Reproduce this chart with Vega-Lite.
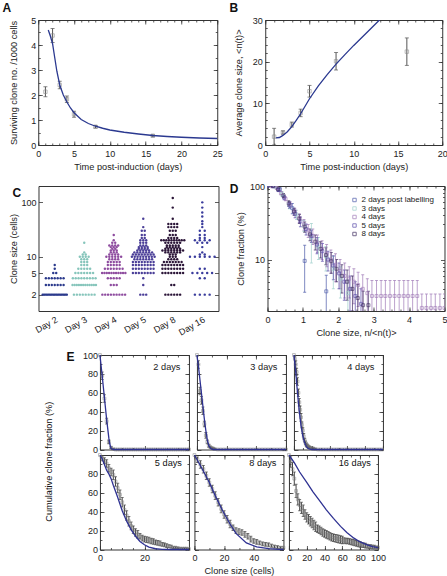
{
"$schema":"https://vega.github.io/schema/vega-lite/v6.json",
"padding":{"left":2,"top":1,"right":0,"bottom":1},
"config":{
 "font":"Liberation Sans",
 "view":{"stroke":"#333","strokeWidth":1},
 "axis":{"domain":false,"ticks":false,"gridColor":"#333","gridWidth":0.8,"gridOpacity":1,"labelPadding":3,"labelFontSize":9,"labelColor":"#222","titleFontSize":9.2,"titleFontWeight":"normal","titleColor":"#222","titlePadding":4,"labelFlush":false,"labelOverlap":false,"labelBound":false},
 "title":{"fontSize":12,"fontWeight":"bold","anchor":"start","frame":"bounds","color":"#111"},
 "legend":{"labelFont":"Liberation Sans"}
},
"datasets":{
 "a":[{"t":1,"v":2.13,"e":0.2},{"t":2,"v":4.38,"e":0.28},{"t":3,"v":2.4,"e":0.15},{"t":4,"v":1.83,"e":0.13},{"t":5,"v":1.23,"e":0.12},{"t":8,"v":0.73,"e":0.05},{"t":16,"v":0.37,"e":0.04}],
 "af":[{"t":1.4,"v":4.6},{"t":1.7,"v":4.35},{"t":2,"v":4.05},{"t":2.3,"v":3.5},{"t":2.6,"v":2.95},{"t":3,"v":2.4},{"t":3.5,"v":2.0},{"t":4,"v":1.72},{"t":4.5,"v":1.48},{"t":5,"v":1.29},{"t":6,"v":1.02},{"t":7,"v":0.86},{"t":8,"v":0.75},{"t":9,"v":0.67},{"t":10,"v":0.6},{"t":12,"v":0.51},{"t":14,"v":0.44},{"t":16,"v":0.38},{"t":18,"v":0.34},{"t":20,"v":0.31},{"t":22.5,"v":0.28},{"t":25,"v":0.26}],
 "b":[{"t":1,"v":2,"e":2},{"t":2,"v":3,"e":0.4},{"t":3,"v":4.9,"e":0.6},{"t":4,"v":7.7,"e":0.9},{"t":5,"v":12.9,"e":1.4},{"t":8,"v":20.1,"e":2.1},{"t":16,"v":22.4,"e":3.3}],
 "bf":[{"t":1.2,"v":1.7},{"t":1.6,"v":1.8},{"t":2,"v":2.3},{"t":2.5,"v":3.2},{"t":3,"v":4.4},{"t":3.5,"v":5.9},{"t":4,"v":7.5},{"t":4.5,"v":9.3},{"t":5,"v":11.1},{"t":6,"v":14.2},{"t":7,"v":16.9},{"t":8,"v":19.4},{"t":9,"v":21.7},{"t":10,"v":23.9},{"t":11,"v":26.0},{"t":12,"v":28.1},{"t":13,"v":30.2}],
 "c":[
{"d":2,"s":2},{"d":2,"s":2},{"d":2,"s":2},{"d":2,"s":2},{"d":2,"s":2},{"d":2,"s":2},{"d":2,"s":2},{"d":2,"s":2},{"d":2,"s":2},{"d":2,"s":2},{"d":2,"s":2},{"d":2,"s":2},{"d":2,"s":2},{"d":2,"s":2},{"d":2,"s":2},{"d":2,"s":2},{"d":2,"s":2},{"d":2,"s":2},
{"d":2,"s":3},{"d":2,"s":3},{"d":2,"s":3},{"d":2,"s":3},{"d":2,"s":3},{"d":2,"s":3},{"d":2,"s":3},
{"d":2,"s":4},{"d":2,"s":4},{"d":2,"s":4},{"d":2,"s":4},{"d":2,"s":4},{"d":2,"s":4},{"d":2,"s":4},
{"d":2,"s":5},{"d":2,"s":5},{"d":2,"s":6},{"d":2,"s":7},
{"d":3,"s":2},{"d":3,"s":2},{"d":3,"s":2},{"d":3,"s":2},{"d":3,"s":2},{"d":3,"s":2},{"d":3,"s":2},{"d":3,"s":2},
{"d":3,"s":3},{"d":3,"s":3},{"d":3,"s":3},{"d":3,"s":3},{"d":3,"s":3},{"d":3,"s":3},{"d":3,"s":3},{"d":3,"s":3},{"d":3,"s":3},{"d":3,"s":3},{"d":3,"s":3},{"d":3,"s":3},
{"d":3,"s":4},{"d":3,"s":4},{"d":3,"s":4},{"d":3,"s":4},{"d":3,"s":4},{"d":3,"s":4},{"d":3,"s":4},{"d":3,"s":4},{"d":3,"s":4},
{"d":3,"s":5},{"d":3,"s":5},{"d":3,"s":5},{"d":3,"s":5},{"d":3,"s":5},{"d":3,"s":5},{"d":3,"s":5},
{"d":3,"s":6},{"d":3,"s":6},{"d":3,"s":6},{"d":3,"s":6},{"d":3,"s":6},
{"d":3,"s":7},{"d":3,"s":7},{"d":3,"s":7},{"d":3,"s":8},{"d":3,"s":8},{"d":3,"s":8},{"d":3,"s":9},{"d":3,"s":9},{"d":3,"s":9},
{"d":3,"s":10},{"d":3,"s":10},{"d":3,"s":10},{"d":3,"s":10},{"d":3,"s":11},{"d":3,"s":11},{"d":3,"s":12},{"d":3,"s":18},
{"d":4,"s":2},{"d":4,"s":2},{"d":4,"s":2},{"d":4,"s":2},{"d":4,"s":2},{"d":4,"s":2},{"d":4,"s":2},{"d":4,"s":2},{"d":4,"s":2},
{"d":4,"s":3},{"d":4,"s":3},{"d":4,"s":3},{"d":4,"s":4},{"d":4,"s":4},{"d":4,"s":4},{"d":4,"s":4},{"d":4,"s":4},
{"d":4,"s":5},{"d":4,"s":5},{"d":4,"s":5},{"d":4,"s":5},{"d":4,"s":5},{"d":4,"s":5},{"d":4,"s":5},{"d":4,"s":5},{"d":4,"s":5},{"d":4,"s":5},{"d":4,"s":5},
{"d":4,"s":6},{"d":4,"s":6},{"d":4,"s":6},{"d":4,"s":6},{"d":4,"s":6},{"d":4,"s":6},{"d":4,"s":6},
{"d":4,"s":7},{"d":4,"s":7},{"d":4,"s":7},{"d":4,"s":7},{"d":4,"s":7},{"d":4,"s":8},{"d":4,"s":8},{"d":4,"s":8},{"d":4,"s":8},{"d":4,"s":8},
{"d":4,"s":9},{"d":4,"s":9},{"d":4,"s":9},{"d":4,"s":9},{"d":4,"s":10},{"d":4,"s":10},{"d":4,"s":10},{"d":4,"s":10},{"d":4,"s":10},{"d":4,"s":10},
{"d":4,"s":11},{"d":4,"s":11},{"d":4,"s":11},{"d":4,"s":11},{"d":4,"s":12},{"d":4,"s":12},{"d":4,"s":12},{"d":4,"s":13},{"d":4,"s":13},{"d":4,"s":13},
{"d":4,"s":14},{"d":4,"s":14},{"d":4,"s":15},{"d":4,"s":15},{"d":4,"s":15},{"d":4,"s":16},{"d":4,"s":16},{"d":4,"s":16},{"d":4,"s":16},
{"d":4,"s":18},{"d":4,"s":18},{"d":4,"s":20},{"d":4,"s":25},
{"d":5,"s":2},{"d":5,"s":2},{"d":5,"s":2},{"d":5,"s":3},{"d":5,"s":4},
{"d":5,"s":5},{"d":5,"s":5},{"d":5,"s":5},{"d":5,"s":5},{"d":5,"s":5},{"d":5,"s":5},{"d":5,"s":5},{"d":5,"s":5},
{"d":5,"s":6},{"d":5,"s":6},{"d":5,"s":6},{"d":5,"s":6},{"d":5,"s":6},{"d":5,"s":6},{"d":5,"s":6},{"d":5,"s":6},
{"d":5,"s":7},{"d":5,"s":7},{"d":5,"s":7},{"d":5,"s":7},{"d":5,"s":7},{"d":5,"s":7},{"d":5,"s":7},{"d":5,"s":7},
{"d":5,"s":8},{"d":5,"s":8},{"d":5,"s":8},{"d":5,"s":8},{"d":5,"s":8},{"d":5,"s":8},{"d":5,"s":8},{"d":5,"s":8},
{"d":5,"s":9},{"d":5,"s":9},{"d":5,"s":9},{"d":5,"s":9},{"d":5,"s":9},{"d":5,"s":9},{"d":5,"s":9},
{"d":5,"s":10},{"d":5,"s":10},{"d":5,"s":10},{"d":5,"s":10},{"d":5,"s":10},{"d":5,"s":10},{"d":5,"s":10},{"d":5,"s":10},{"d":5,"s":10},
{"d":5,"s":11},{"d":5,"s":11},{"d":5,"s":11},{"d":5,"s":11},{"d":5,"s":11},{"d":5,"s":11},{"d":5,"s":11},{"d":5,"s":11},
{"d":5,"s":12},{"d":5,"s":12},{"d":5,"s":12},{"d":5,"s":12},{"d":5,"s":12},{"d":5,"s":12},{"d":5,"s":12},
{"d":5,"s":13},{"d":5,"s":13},{"d":5,"s":13},{"d":5,"s":13},{"d":5,"s":13},{"d":5,"s":14},{"d":5,"s":14},{"d":5,"s":14},{"d":5,"s":14},
{"d":5,"s":15},{"d":5,"s":15},{"d":5,"s":15},{"d":5,"s":15},{"d":5,"s":16},{"d":5,"s":16},{"d":5,"s":16},
{"d":5,"s":18},{"d":5,"s":18},{"d":5,"s":18},{"d":5,"s":20},{"d":5,"s":20},{"d":5,"s":20},{"d":5,"s":22},{"d":5,"s":22},
{"d":5,"s":25},{"d":5,"s":25},{"d":5,"s":30},{"d":5,"s":30},{"d":5,"s":35},{"d":5,"s":50},
{"d":8,"s":2},{"d":8,"s":2},{"d":8,"s":2},{"d":8,"s":2},{"d":8,"s":2},{"d":8,"s":2},{"d":8,"s":3},{"d":8,"s":3},
{"d":8,"s":5},{"d":8,"s":5},{"d":8,"s":5},{"d":8,"s":5},{"d":8,"s":5},{"d":8,"s":5},{"d":8,"s":5},{"d":8,"s":5},
{"d":8,"s":6},{"d":8,"s":6},{"d":8,"s":6},{"d":8,"s":6},{"d":8,"s":6},{"d":8,"s":6},{"d":8,"s":6},{"d":8,"s":6},
{"d":8,"s":7},{"d":8,"s":7},{"d":8,"s":7},{"d":8,"s":7},{"d":8,"s":7},{"d":8,"s":7},{"d":8,"s":7},{"d":8,"s":7},
{"d":8,"s":8},{"d":8,"s":8},{"d":8,"s":8},{"d":8,"s":8},{"d":8,"s":8},{"d":8,"s":8},{"d":8,"s":8},
{"d":8,"s":9},{"d":8,"s":9},{"d":8,"s":9},{"d":8,"s":9},{"d":8,"s":10},{"d":8,"s":10},{"d":8,"s":10},{"d":8,"s":11},{"d":8,"s":11},{"d":8,"s":11},
{"d":8,"s":12},{"d":8,"s":12},{"d":8,"s":12},{"d":8,"s":12},{"d":8,"s":12},{"d":8,"s":12},
{"d":8,"s":13},{"d":8,"s":13},{"d":8,"s":13},{"d":8,"s":13},{"d":8,"s":13},{"d":8,"s":13},{"d":8,"s":13},{"d":8,"s":13},
{"d":8,"s":14},{"d":8,"s":14},{"d":8,"s":14},{"d":8,"s":14},{"d":8,"s":14},{"d":8,"s":14},
{"d":8,"s":15},{"d":8,"s":15},{"d":8,"s":15},{"d":8,"s":15},{"d":8,"s":15},{"d":8,"s":16},{"d":8,"s":16},{"d":8,"s":16},{"d":8,"s":16},{"d":8,"s":16},
{"d":8,"s":18},{"d":8,"s":18},{"d":8,"s":18},{"d":8,"s":18},{"d":8,"s":18},{"d":8,"s":18},
{"d":8,"s":20},{"d":8,"s":20},{"d":8,"s":20},{"d":8,"s":20},{"d":8,"s":20},{"d":8,"s":20},{"d":8,"s":20},{"d":8,"s":20},{"d":8,"s":20},{"d":8,"s":20},
{"d":8,"s":22},{"d":8,"s":22},{"d":8,"s":22},{"d":8,"s":22},{"d":8,"s":25},{"d":8,"s":25},{"d":8,"s":25},{"d":8,"s":30},{"d":8,"s":30},{"d":8,"s":30},
{"d":8,"s":35},{"d":8,"s":35},{"d":8,"s":35},{"d":8,"s":35},{"d":8,"s":40},{"d":8,"s":40},{"d":8,"s":40},{"d":8,"s":40},{"d":8,"s":50},{"d":8,"s":80},{"d":8,"s":120},
{"d":16,"s":2},{"d":16,"s":2},{"d":16,"s":2},{"d":16,"s":2},{"d":16,"s":4},{"d":16,"s":4},
{"d":16,"s":5},{"d":16,"s":5},{"d":16,"s":5},{"d":16,"s":5},{"d":16,"s":5},{"d":16,"s":6},{"d":16,"s":6},
{"d":16,"s":10},{"d":16,"s":10},{"d":16,"s":10},{"d":16,"s":10},{"d":16,"s":10},{"d":16,"s":10},{"d":16,"s":11},{"d":16,"s":11},{"d":16,"s":12},{"d":16,"s":15},
{"d":16,"s":18},{"d":16,"s":18},{"d":16,"s":18},{"d":16,"s":20},{"d":16,"s":20},{"d":16,"s":20},{"d":16,"s":20},{"d":16,"s":22},{"d":16,"s":22},
{"d":16,"s":25},{"d":16,"s":25},{"d":16,"s":30},{"d":16,"s":30},{"d":16,"s":35},{"d":16,"s":40},{"d":16,"s":45},{"d":16,"s":55},{"d":16,"s":65},{"d":16,"s":80},{"d":16,"s":100}
 ],
 "dd":[
{"s":"2 days post labelling","x":0,"y":100,"e":1},{"s":"2 days post labelling","x":0.35,"y":90,"e":5},{"s":"2 days post labelling","x":0.7,"y":50,"e":8},{"s":"2 days post labelling","x":1.05,"y":9.6,"e":6},{"s":"2 days post labelling","x":1.66,"y":3.7,"e":2.4},
{"s":"3 days","x":0,"y":100,"e":1},{"s":"3 days","x":0.21,"y":98,"e":3},{"s":"3 days","x":0.41,"y":78,"e":6},{"s":"3 days","x":0.62,"y":55,"e":6},{"s":"3 days","x":0.82,"y":41,"e":6},{"s":"3 days","x":1.03,"y":29,"e":5},{"s":"3 days","x":1.24,"y":20,"e":11},{"s":"3 days","x":1.44,"y":15,"e":5},{"s":"3 days","x":1.65,"y":11,"e":4},{"s":"3 days","x":1.86,"y":7.5,"e":3.5},{"s":"3 days","x":2.06,"y":5.5,"e":2.5},{"s":"3 days","x":2.27,"y":3.5,"e":1.8},
{"s":"4 days","x":0,"y":100,"e":1},{"s":"4 days","x":0.13,"y":99,"e":2},{"s":"4 days","x":0.26,"y":94,"e":3},{"s":"4 days","x":0.38,"y":80,"e":4},{"s":"4 days","x":0.51,"y":67,"e":4},{"s":"4 days","x":0.64,"y":56,"e":5},{"s":"4 days","x":0.77,"y":45,"e":5},{"s":"4 days","x":0.9,"y":37,"e":5},{"s":"4 days","x":1.03,"y":30,"e":5},{"s":"4 days","x":1.15,"y":25,"e":5},{"s":"4 days","x":1.28,"y":21,"e":5},{"s":"4 days","x":1.41,"y":17,"e":4.5},{"s":"4 days","x":1.54,"y":14,"e":4},{"s":"4 days","x":1.67,"y":12,"e":4},{"s":"4 days","x":1.79,"y":10,"e":3.5},{"s":"4 days","x":1.92,"y":8.5,"e":3.5},{"s":"4 days","x":2.05,"y":7,"e":3},{"s":"4 days","x":2.18,"y":6,"e":3},{"s":"4 days","x":2.31,"y":5.5,"e":2.5},{"s":"4 days","x":2.44,"y":5,"e":2.5},{"s":"4 days","x":2.56,"y":4.5,"e":2.2},{"s":"4 days","x":2.69,"y":4,"e":2.2},{"s":"4 days","x":2.82,"y":3.5,"e":2},{"s":"4 days","x":2.95,"y":3.2,"e":2},{"s":"4 days","x":3.08,"y":3.2,"e":2},{"s":"4 days","x":3.21,"y":3.2,"e":2},{"s":"4 days","x":3.33,"y":3.2,"e":2},{"s":"4 days","x":3.46,"y":3.2,"e":2},{"s":"4 days","x":3.59,"y":3.2,"e":2},{"s":"4 days","x":3.72,"y":3.2,"e":2},{"s":"4 days","x":3.85,"y":3.2,"e":2},{"s":"4 days","x":3.97,"y":3.2,"e":2},{"s":"4 days","x":4.1,"y":3.2,"e":2},{"s":"4 days","x":4.23,"y":3.2,"e":2},{"s":"4 days","x":4.36,"y":2.2,"e":1.2},{"s":"4 days","x":4.49,"y":2.2,"e":1.2},{"s":"4 days","x":4.62,"y":2.2,"e":1.2},{"s":"4 days","x":4.74,"y":2.2,"e":1.2},{"s":"4 days","x":4.87,"y":2.2,"e":1.2},{"s":"4 days","x":5,"y":2.2,"e":1.2},
{"s":"5 days","x":0,"y":100,"e":1},{"s":"5 days","x":0.16,"y":99,"e":2},{"s":"5 days","x":0.31,"y":88,"e":4},{"s":"5 days","x":0.47,"y":70,"e":5},{"s":"5 days","x":0.62,"y":55,"e":5},{"s":"5 days","x":0.78,"y":42,"e":5},{"s":"5 days","x":0.93,"y":33,"e":5},{"s":"5 days","x":1.09,"y":26,"e":4.5},{"s":"5 days","x":1.24,"y":21,"e":4},{"s":"5 days","x":1.4,"y":16,"e":4},{"s":"5 days","x":1.55,"y":13,"e":3.5},{"s":"5 days","x":1.71,"y":10,"e":3},{"s":"5 days","x":1.86,"y":8.3,"e":3},{"s":"5 days","x":2.02,"y":6.5,"e":2.5},{"s":"5 days","x":2.17,"y":5,"e":2.2},{"s":"5 days","x":2.33,"y":4,"e":2},{"s":"5 days","x":2.48,"y":3.2,"e":1.8},{"s":"5 days","x":2.64,"y":2.5,"e":1.5},
{"s":"8 days","x":0,"y":100,"e":1},{"s":"8 days","x":0.15,"y":100,"e":2},{"s":"8 days","x":0.3,"y":90,"e":4},{"s":"8 days","x":0.45,"y":74,"e":5},{"s":"8 days","x":0.6,"y":58,"e":5},{"s":"8 days","x":0.75,"y":45,"e":5},{"s":"8 days","x":0.9,"y":36,"e":5},{"s":"8 days","x":1.05,"y":28,"e":4.5},{"s":"8 days","x":1.2,"y":22,"e":4},{"s":"8 days","x":1.35,"y":17.5,"e":4},{"s":"8 days","x":1.5,"y":14,"e":3.5},{"s":"8 days","x":1.65,"y":11.5,"e":3},{"s":"8 days","x":1.8,"y":9.5,"e":3},{"s":"8 days","x":1.95,"y":7.5,"e":2.5},{"s":"8 days","x":2.1,"y":6,"e":2.5},{"s":"8 days","x":2.25,"y":5,"e":2.2},{"s":"8 days","x":2.4,"y":4,"e":2},{"s":"8 days","x":2.55,"y":3,"e":1.6},{"s":"8 days","x":2.7,"y":2.4,"e":1.3},{"s":"8 days","x":2.85,"y":2.4,"e":1.3}
 ],
 "ed":[
{"p":"2","x":0,"y":100,"e":1},{"p":"2","x":1,"y":78,"e":4},{"p":"2","x":2,"y":54,"e":4},{"p":"2","x":3,"y":30,"e":3},{"p":"2","x":4,"y":8,"e":2},{"p":"2","x":5,"y":2,"e":1},{"p":"2","x":6,"y":0.5,"e":0.5},
{"p":"2","x":7,"y":0,"e":0.3},{"p":"2","x":8,"y":0,"e":0.3},{"p":"2","x":9,"y":0,"e":0.3},{"p":"2","x":10,"y":0,"e":0.3},{"p":"2","x":11,"y":0,"e":0.3},{"p":"2","x":12,"y":0,"e":0.3},{"p":"2","x":13,"y":0,"e":0.3},{"p":"2","x":14,"y":0,"e":0.3},{"p":"2","x":15,"y":0,"e":0.3},{"p":"2","x":16,"y":0,"e":0.3},{"p":"2","x":17,"y":0,"e":0.3},{"p":"2","x":18,"y":0,"e":0.3},{"p":"2","x":19,"y":0,"e":0.3},{"p":"2","x":20,"y":0,"e":0.3},{"p":"2","x":21,"y":0,"e":0.3},{"p":"2","x":22,"y":0,"e":0.3},{"p":"2","x":23,"y":0,"e":0.3},{"p":"2","x":24,"y":0,"e":0.3},{"p":"2","x":25,"y":0,"e":0.3},{"p":"2","x":26,"y":0,"e":0.3},{"p":"2","x":27,"y":0,"e":0.3},{"p":"2","x":28,"y":0,"e":0.3},{"p":"2","x":29,"y":0,"e":0.3},{"p":"2","x":30,"y":0,"e":0.3},{"p":"2","x":31,"y":0,"e":0.3},{"p":"2","x":32,"y":0,"e":0.3},{"p":"2","x":33,"y":0,"e":0.3},{"p":"2","x":34,"y":0,"e":0.3},{"p":"2","x":35,"y":0,"e":0.3},{"p":"2","x":36,"y":0,"e":0.3},{"p":"2","x":37,"y":0,"e":0.3},{"p":"2","x":38,"y":0,"e":0.3},{"p":"2","x":39,"y":0,"e":0.3},{"p":"2","x":40,"y":0,"e":0.3},
{"p":"3","x":0,"y":100,"e":1},{"p":"3","x":1,"y":90,"e":4},{"p":"3","x":2,"y":62,"e":4},{"p":"3","x":3,"y":52,"e":4},{"p":"3","x":4,"y":41,"e":4},{"p":"3","x":5,"y":27,"e":3},{"p":"3","x":6,"y":15,"e":3},{"p":"3","x":7,"y":8,"e":2},{"p":"3","x":8,"y":4,"e":1.5},{"p":"3","x":9,"y":2.5,"e":1},{"p":"3","x":10,"y":1.5,"e":1},{"p":"3","x":11,"y":1,"e":0.8},{"p":"3","x":12,"y":0.5,"e":0.5},
{"p":"3","x":14,"y":0,"e":0.3},{"p":"3","x":16,"y":0,"e":0.3},{"p":"3","x":18,"y":0,"e":0.3},{"p":"3","x":20,"y":0,"e":0.3},{"p":"3","x":22,"y":0,"e":0.3},{"p":"3","x":24,"y":0,"e":0.3},{"p":"3","x":26,"y":0,"e":0.3},{"p":"3","x":28,"y":0,"e":0.3},{"p":"3","x":30,"y":0,"e":0.3},{"p":"3","x":32,"y":0,"e":0.3},{"p":"3","x":34,"y":0,"e":0.3},{"p":"3","x":36,"y":0,"e":0.3},{"p":"3","x":38,"y":0,"e":0.3},{"p":"3","x":40,"y":0,"e":0.3},{"p":"3","x":42,"y":0,"e":0.3},{"p":"3","x":44,"y":0,"e":0.3},{"p":"3","x":46,"y":0,"e":0.3},{"p":"3","x":48,"y":0,"e":0.3},{"p":"3","x":50,"y":0,"e":0.3},{"p":"3","x":52,"y":0,"e":0.3},{"p":"3","x":54,"y":0,"e":0.3},{"p":"3","x":56,"y":0,"e":0.3},{"p":"3","x":58,"y":0,"e":0.3},{"p":"3","x":60,"y":0,"e":0.3},
{"p":"4","x":0,"y":100,"e":1},{"p":"4","x":1,"y":96,"e":3},{"p":"4","x":2,"y":90,"e":4},{"p":"4","x":3,"y":82,"e":4},{"p":"4","x":4,"y":72,"e":4},{"p":"4","x":5,"y":60,"e":4},{"p":"4","x":6,"y":50,"e":4},{"p":"4","x":7,"y":42,"e":4},{"p":"4","x":8,"y":34,"e":4},{"p":"4","x":9,"y":26,"e":3},{"p":"4","x":10,"y":20,"e":3},{"p":"4","x":11,"y":14,"e":3},{"p":"4","x":12,"y":10,"e":2},{"p":"4","x":13,"y":7,"e":2},{"p":"4","x":14,"y":5,"e":2},{"p":"4","x":15,"y":4,"e":1.5},{"p":"4","x":16,"y":3,"e":1.5},{"p":"4","x":17,"y":2.5,"e":1},{"p":"4","x":18,"y":2,"e":1},{"p":"4","x":20,"y":1.5,"e":1},{"p":"4","x":22,"y":1,"e":0.8},{"p":"4","x":24,"y":0.5,"e":0.5},
{"p":"4","x":27,"y":0,"e":0.3},{"p":"4","x":30,"y":0,"e":0.3},{"p":"4","x":33,"y":0,"e":0.3},{"p":"4","x":36,"y":0,"e":0.3},{"p":"4","x":39,"y":0,"e":0.3},{"p":"4","x":42,"y":0,"e":0.3},{"p":"4","x":45,"y":0,"e":0.3},{"p":"4","x":48,"y":0,"e":0.3},{"p":"4","x":51,"y":0,"e":0.3},{"p":"4","x":54,"y":0,"e":0.3},{"p":"4","x":57,"y":0,"e":0.3},{"p":"4","x":60,"y":0,"e":0.3},{"p":"4","x":63,"y":0,"e":0.3},{"p":"4","x":66,"y":0,"e":0.3},{"p":"4","x":69,"y":0,"e":0.3},{"p":"4","x":72,"y":0,"e":0.3},{"p":"4","x":75,"y":0,"e":0.3},{"p":"4","x":78,"y":0,"e":0.3},{"p":"4","x":81,"y":0,"e":0.3},{"p":"4","x":84,"y":0,"e":0.3},{"p":"4","x":87,"y":0,"e":0.3},{"p":"4","x":90,"y":0,"e":0.3},{"p":"4","x":93,"y":0,"e":0.3},{"p":"4","x":96,"y":0,"e":0.3},{"p":"4","x":99,"y":0,"e":0.3},
{"p":"5","x":0,"y":100,"e":1},{"p":"5","x":1,"y":97,"e":3},{"p":"5","x":2,"y":94,"e":3},{"p":"5","x":3,"y":91,"e":4},{"p":"5","x":4,"y":86,"e":4},{"p":"5","x":5,"y":82,"e":4},{"p":"5","x":6,"y":79,"e":5},{"p":"5","x":7,"y":72,"e":5},{"p":"5","x":8,"y":65,"e":5},{"p":"5","x":9,"y":58,"e":5},{"p":"5","x":10,"y":50,"e":5},{"p":"5","x":11,"y":42,"e":5},{"p":"5","x":12,"y":36,"e":5},{"p":"5","x":13,"y":30,"e":5},{"p":"5","x":14,"y":25,"e":4},{"p":"5","x":15,"y":21,"e":4},{"p":"5","x":16,"y":18,"e":4},{"p":"5","x":17,"y":16,"e":4},{"p":"5","x":18,"y":14,"e":3},{"p":"5","x":19,"y":12,"e":3},{"p":"5","x":20,"y":11,"e":3},{"p":"5","x":21,"y":10.5,"e":3},{"p":"5","x":22,"y":10,"e":3},{"p":"5","x":23,"y":9,"e":3},{"p":"5","x":24,"y":8.5,"e":3},{"p":"5","x":25,"y":7.5,"e":2.5},{"p":"5","x":26,"y":7,"e":2.5},{"p":"5","x":27,"y":6.5,"e":2.5},{"p":"5","x":28,"y":5.5,"e":2},{"p":"5","x":29,"y":5,"e":2},{"p":"5","x":30,"y":4,"e":2},{"p":"5","x":31,"y":3.5,"e":1.5},{"p":"5","x":32,"y":3,"e":1.5},{"p":"5","x":33,"y":2,"e":1},{"p":"5","x":34,"y":2,"e":1},{"p":"5","x":35,"y":1.5,"e":1},{"p":"5","x":36,"y":1,"e":0.8},{"p":"5","x":37,"y":1,"e":0.8},{"p":"5","x":38,"y":1,"e":0.8},{"p":"5","x":39,"y":1,"e":0.8},{"p":"5","x":40,"y":0.5,"e":0.5},
{"p":"8","x":0,"y":100,"e":1},{"p":"8","x":2,"y":95,"e":3},{"p":"8","x":4,"y":90,"e":4},{"p":"8","x":6,"y":85,"e":4},{"p":"8","x":8,"y":78,"e":4},{"p":"8","x":10,"y":71,"e":4},{"p":"8","x":12,"y":64,"e":4},{"p":"8","x":14,"y":57,"e":4},{"p":"8","x":16,"y":50,"e":4},{"p":"8","x":18,"y":43,"e":4},{"p":"8","x":20,"y":37,"e":4},{"p":"8","x":22,"y":32,"e":4},{"p":"8","x":24,"y":27,"e":4},{"p":"8","x":26,"y":23,"e":3},{"p":"8","x":28,"y":20,"e":3},{"p":"8","x":30,"y":19,"e":3},{"p":"8","x":32,"y":18,"e":3},{"p":"8","x":34,"y":16,"e":3},{"p":"8","x":36,"y":14,"e":3},{"p":"8","x":38,"y":11,"e":3},{"p":"8","x":40,"y":9,"e":2.5},{"p":"8","x":42,"y":8,"e":2.5},{"p":"8","x":44,"y":7,"e":2},{"p":"8","x":46,"y":6,"e":2},{"p":"8","x":48,"y":5.5,"e":2},{"p":"8","x":50,"y":5,"e":2},{"p":"8","x":52,"y":4,"e":1.5},{"p":"8","x":54,"y":3,"e":1.5},{"p":"8","x":56,"y":2.5,"e":1.5},{"p":"8","x":58,"y":2,"e":1},{"p":"8","x":60,"y":2,"e":1},
{"p":"16","x":0,"y":100,"e":1},{"p":"16","x":2,"y":93,"e":6},{"p":"16","x":4,"y":85,"e":7},{"p":"16","x":6,"y":75,"e":7},{"p":"16","x":8,"y":62,"e":7},{"p":"16","x":10,"y":53,"e":6},{"p":"16","x":12,"y":47,"e":6},{"p":"16","x":14,"y":44,"e":6},{"p":"16","x":16,"y":41,"e":6},{"p":"16","x":18,"y":37,"e":5},{"p":"16","x":20,"y":34,"e":5},{"p":"16","x":22,"y":32,"e":5},{"p":"16","x":24,"y":30,"e":5},{"p":"16","x":26,"y":28,"e":5},{"p":"16","x":28,"y":26,"e":5},{"p":"16","x":30,"y":24,"e":5},{"p":"16","x":32,"y":22,"e":4},{"p":"16","x":34,"y":21,"e":4},{"p":"16","x":36,"y":19.5,"e":4},{"p":"16","x":38,"y":18,"e":4},{"p":"16","x":40,"y":17,"e":4},{"p":"16","x":42,"y":16,"e":4},{"p":"16","x":44,"y":15,"e":4},{"p":"16","x":46,"y":14,"e":4},{"p":"16","x":48,"y":13,"e":4},{"p":"16","x":50,"y":12.5,"e":4},{"p":"16","x":52,"y":12,"e":4},{"p":"16","x":54,"y":11.5,"e":4},{"p":"16","x":56,"y":11,"e":4},{"p":"16","x":58,"y":10.5,"e":4},{"p":"16","x":60,"y":10,"e":4},{"p":"16","x":62,"y":9.5,"e":3},{"p":"16","x":64,"y":9,"e":3},{"p":"16","x":66,"y":9,"e":3},{"p":"16","x":68,"y":8.5,"e":3},{"p":"16","x":70,"y":8,"e":3},{"p":"16","x":72,"y":7.5,"e":3},{"p":"16","x":74,"y":7,"e":3},{"p":"16","x":76,"y":6.5,"e":3},{"p":"16","x":78,"y":6,"e":3},{"p":"16","x":80,"y":5.5,"e":3},{"p":"16","x":82,"y":5,"e":2.5},{"p":"16","x":84,"y":4.5,"e":2.5},{"p":"16","x":86,"y":4,"e":2.5},{"p":"16","x":88,"y":3.5,"e":2},{"p":"16","x":90,"y":3,"e":2},{"p":"16","x":92,"y":3,"e":2},{"p":"16","x":94,"y":2.5,"e":2},{"p":"16","x":96,"y":2.5,"e":2},{"p":"16","x":98,"y":2,"e":1.5},{"p":"16","x":100,"y":2,"e":1.5}
 ],
 "ef":[
{"p":"2","x":0,"y":100},{"p":"2","x":1,"y":78},{"p":"2","x":2,"y":55},{"p":"2","x":3,"y":32},{"p":"2","x":4,"y":12},{"p":"2","x":4.5,"y":5},{"p":"2","x":5,"y":1},{"p":"2","x":6,"y":0},{"p":"2","x":40,"y":0},
{"p":"3","x":0,"y":100},{"p":"3","x":1,"y":88},{"p":"3","x":2,"y":74},{"p":"3","x":3,"y":60},{"p":"3","x":4,"y":46},{"p":"3","x":5,"y":32},{"p":"3","x":6,"y":20},{"p":"3","x":7,"y":10},{"p":"3","x":8,"y":4},{"p":"3","x":9,"y":1.5},{"p":"3","x":10,"y":0.3},{"p":"3","x":11,"y":0},{"p":"3","x":60,"y":0},
{"p":"4","x":0,"y":100},{"p":"4","x":2,"y":82},{"p":"4","x":4,"y":60},{"p":"4","x":6,"y":40},{"p":"4","x":8,"y":25},{"p":"4","x":10,"y":14},{"p":"4","x":12,"y":7},{"p":"4","x":14,"y":3},{"p":"4","x":16,"y":1.2},{"p":"4","x":18,"y":0.3},{"p":"4","x":20,"y":0},{"p":"4","x":100,"y":0},
{"p":"5","x":0,"y":100},{"p":"5","x":1,"y":96},{"p":"5","x":2,"y":90},{"p":"5","x":3,"y":84},{"p":"5","x":4,"y":80},{"p":"5","x":5,"y":75},{"p":"5","x":6,"y":68},{"p":"5","x":8,"y":55},{"p":"5","x":10,"y":41},{"p":"5","x":12,"y":30},{"p":"5","x":14,"y":21},{"p":"5","x":16,"y":14},{"p":"5","x":18,"y":8.5},{"p":"5","x":20,"y":5},{"p":"5","x":22,"y":2.5},{"p":"5","x":25,"y":0.8},{"p":"5","x":28,"y":0.2},{"p":"5","x":32,"y":0},{"p":"5","x":40,"y":0},
{"p":"8","x":0,"y":100},{"p":"8","x":5,"y":86},{"p":"8","x":10,"y":71},{"p":"8","x":14,"y":57},{"p":"8","x":19,"y":41},{"p":"8","x":24,"y":27},{"p":"8","x":28,"y":17},{"p":"8","x":35,"y":7},{"p":"8","x":42,"y":2.7},{"p":"8","x":50,"y":1},{"p":"8","x":57,"y":0.2},{"p":"8","x":60,"y":0},
{"p":"16","x":0,"y":100},{"p":"16","x":6,"y":92},{"p":"16","x":12,"y":82},{"p":"16","x":20,"y":71},{"p":"16","x":27,"y":61},{"p":"16","x":35,"y":51},{"p":"16","x":42,"y":42},{"p":"16","x":50,"y":33},{"p":"16","x":58,"y":24.5},{"p":"16","x":65,"y":18},{"p":"16","x":73,"y":12},{"p":"16","x":80,"y":8},{"p":"16","x":88,"y":5},{"p":"16","x":94,"y":3},{"p":"16","x":100,"y":2}
 ]
},
"vconcat":[
 {"hconcat":[
  {"width":179,"height":125,"title":{"text":"A","offset":1,"dx":-7},
   "resolve":{"axis":{"x":"independent","y":"independent"}},
   "layer":[
    {"data":{"name":"a"},"mark":{"type":"errorbar","ticks":{"size":4},"color":"#555"},
     "encoding":{"x":{"field":"t","type":"quantitative","scale":{"domain":[0,25],"nice":false},"axis":null},
      "y":{"field":"v","type":"quantitative","scale":{"domain":[0,5]},"axis":null},"yError":{"field":"e"}}},
    {"data":{"name":"a"},"mark":{"type":"point","shape":"square","size":12,"color":"#888","strokeWidth":0.8},
     "encoding":{"x":{"field":"t","type":"quantitative","axis":{"orient":"bottom","title":null,"labels":false,"grid":true,"gridDash":[2,121,2,500],"values":[0,1,2,3,4,5,6,7,8,9,10,11,12,13,14,15,16,17,18,19,20,21,22,23,24,25]}},
      "y":{"field":"v","type":"quantitative","axis":{"orient":"left","title":null,"labels":false,"grid":true,"gridDash":[2,175,2,500],"values":[0,0.5,1,1.5,2,2.5,3,3.5,4,4.5,5]}}}},
    {"data":{"name":"af"},"mark":{"type":"line","color":"#2b3990","strokeWidth":1.3},
     "encoding":{"x":{"field":"t","type":"quantitative","axis":{"orient":"bottom","title":"Time post-induction (days)","values":[0,5,10,15,20,25],"format":"d","grid":true,"gridDash":[4,117,4,500],"labelOverlap":false,"labelFlush":false,"labelPadding":4}},
      "y":{"field":"v","type":"quantitative","axis":{"orient":"left","title":"Surviving clone no. /1000 cells","values":[0,1,2,3,4,5],"format":"d","grid":true,"gridDash":[4,171,4,500],"labelOverlap":false,"minExtent":10,"maxExtent":10,"titlePadding":9.7,"labelPadding":2.5}}}}
   ]},
  {"width":177,"height":125,"title":{"text":"B","offset":1,"dx":-5},
   "resolve":{"axis":{"x":"independent","y":"independent"}},
   "layer":[
    {"data":{"name":"b"},"mark":{"type":"errorbar","ticks":{"size":4},"color":"#555"},
     "encoding":{"x":{"field":"t","type":"quantitative","scale":{"domain":[0,20],"nice":false},"axis":null},
      "y":{"field":"v","type":"quantitative","scale":{"domain":[0,30]},"axis":null},"yError":{"field":"e"}}},
    {"data":{"name":"b"},"mark":{"type":"point","shape":"square","size":12,"color":"#888","strokeWidth":0.8},
     "encoding":{"x":{"field":"t","type":"quantitative","axis":{"orient":"bottom","title":null,"labels":false,"grid":true,"gridDash":[2,121,2,500],"values":[0,1,2,3,4,5,6,7,8,9,10,11,12,13,14,15,16,17,18,19,20]}},
      "y":{"field":"v","type":"quantitative","axis":{"orient":"left","title":null,"labels":false,"grid":true,"gridDash":[2,173,2,500],"values":[0,2,4,6,8,10,12,14,16,18,20,22,24,26,28,30]}}}},
    {"data":{"name":"bf"},"mark":{"type":"line","color":"#2b3990","strokeWidth":1.3,"clip":true},
     "encoding":{"x":{"field":"t","type":"quantitative","axis":{"orient":"bottom","title":"Time post-induction (days)","values":[0,5,10,15,20],"format":"d","grid":true,"gridDash":[4,117,4,500],"labelOverlap":false,"labelFlush":false,"labelPadding":4}},
      "y":{"field":"v","type":"quantitative","axis":{"orient":"left","title":"Average clone size, <n(t)>","values":[0,10,20,30],"format":"d","grid":true,"gridDash":[4,169,4,500],"labelOverlap":false,"minExtent":17.5,"maxExtent":17.5,"titlePadding":4.2,"labelPadding":3}}}}
   ]}
 ],"spacing":5},
 {"hconcat":[
  {"width":180,"height":125,"title":{"text":"C","offset":-14,"dx":3},
   "data":{"name":"c"},
   "transform":[
    {"window":[{"op":"row_number","as":"r"}],"groupby":["d","s"]},
    {"joinaggregate":[{"op":"count","as":"n"}],"groupby":["d","s"]},
    {"calculate":"(datum.r - (datum.n + 1) / 2) * (datum.d == 16 ? 5 : min(3, 26 / datum.n))","as":"o"}
   ],
   "mark":{"type":"circle","size":6,"opacity":1},
   "encoding":{
    "x":{"field":"d","type":"ordinal","scale":{"type":"band","domain":[2,3,4,5,8,16],"paddingInner":0,"paddingOuter":0.05},"axis":{"title":null,"grid":false,"labelAngle":-30,"labelAlign":"right","labelBaseline":"top","labelExpr":"'Day ' + datum.label","labelPadding":4,"labelOverlap":false}},
    "xOffset":{"field":"o","type":"quantitative","scale":{"domain":[-15,15]}},
    "y":{"field":"s","type":"quantitative","scale":{"type":"log","domain":[1,200],"nice":false},"axis":{"title":"Clone size (cells)","values":[2,5,10,100],"format":"d","grid":true,"gridDash":[4,172,4,500],"labelOverlap":false,"minExtent":17.5,"maxExtent":17.5,"titlePadding":2.5,"labelPadding":2.5}},
    "color":{"field":"d","type":"nominal","scale":{"domain":[2,3,4,5,8,16],"range":["#2b3a8c","#86c5bb","#8e4c9f","#4b3f98","#2b1538","#3a3c9c"]},"legend":null}
   }},
  {"width":177,"height":125,"title":{"text":"D","offset":-14,"dx":-7},
   "resolve":{"axis":{"x":"independent","y":"independent"},"scale":{"color":"independent"},"legend":{"color":"independent"}},
   "layer":[
    {"data":{"name":"dd"},"transform":[{"calculate":"datum.s","as":"s2"}],"mark":{"type":"errorbar","ticks":{"size":3},"opacity":0.7,"clip":true},
     "encoding":{"x":{"field":"x","type":"quantitative","scale":{"domain":[0,5],"nice":false},"axis":{"orient":"bottom","title":null,"labels":false,"grid":true,"gridDash":[2,121,2,500],"values":[0,0.25,0.5,0.75,1,1.25,1.5,1.75,2,2.25,2.5,2.75,3,3.25,3.5,3.75,4,4.25,4.5,4.75,5]}},
      "y":{"field":"y","type":"quantitative","scale":{"type":"log","domain":[2,100],"nice":false},"axis":{"orient":"left","title":null,"labels":false,"grid":true,"gridDash":[2,173,2,500],"values":[2,3,4,5,6,7,8,9,20,30,40,50,60,70,80,90]}},
      "yError":{"field":"e"},
      "color":{"field":"s2","type":"nominal","scale":{"domain":["2 days post labelling","3 days","4 days","5 days","8 days"],"range":["#4a58a8","#9fd0cc","#a07ab8","#5a4caa","#3d2a5e"]},"legend":null}}},
    {"data":{"name":"dd"},"mark":{"type":"point","shape":"square","size":9,"strokeWidth":0.9,"filled":false,"clip":true},
     "encoding":{"x":{"field":"x","type":"quantitative","axis":{"orient":"bottom","title":"Clone size, n/<n(t)>","values":[0,1,2,3,4,5],"format":"d","grid":true,"gridDash":[4,117,4,500],"labelOverlap":false,"labelFlush":false,"labelPadding":4}},
      "y":{"field":"y","type":"quantitative","axis":{"orient":"left","title":"Clone fraction (%)","values":[10,100],"format":"d","grid":true,"gridDash":[4,169,4,500],"labelOverlap":false,"minExtent":17.5,"maxExtent":17.5,"titlePadding":4.2,"labelPadding":3}},
      "color":{"field":"s","type":"nominal","scale":{"domain":["2 days post labelling","3 days","4 days","5 days","8 days"],"range":["#4a58a8","#9fd0cc","#a07ab8","#5a4caa","#3d2a5e"]},"legend":{"orient":"top-right","offset":10,"title":null,"symbolType":"square","symbolSize":12,"symbolStrokeWidth":1,"labelFontSize":8,"labelFont":"Liberation Sans","labelColor":"#222","rowPadding":0.5,"padding":0,"labelOffset":3}}}}
   ]}
 ],"spacing":9},
 {"title":{"text":"Cumulative clone fraction (%)","orient":"left","anchor":"middle","fontSize":9.2,"fontWeight":"normal","offset":12},
  "vconcat":[
  {"hconcat":[
   {"width":89,"height":94.5,"title":{"text":"E","offset":-13,"dx":-16},
    "resolve":{"axis":{"x":"independent","y":"independent"}},
    "layer":[
     {"data":{"name":"ed"},"transform":[{"filter":"datum.p == '2'"}],"mark":{"type":"errorbar","ticks":{"size":3},"color":"#444","clip":true},
      "encoding":{"x":{"field":"x","type":"quantitative","scale":{"domain":[0,40],"nice":false},"axis":null},"y":{"field":"y","type":"quantitative","scale":{"domain":[0,100]},"axis":null},"yError":{"field":"e"}}},
     {"data":{"name":"ed"},"transform":[{"filter":"datum.p == '2'"}],"mark":{"type":"point","shape":"square","size":8,"color":"#7a7a7a","strokeWidth":0.7},
      "encoding":{"x":{"field":"x","type":"quantitative","axis":{"orient":"bottom","title":null,"labels":false,"grid":true,"gridDash":[2,90.5,2,500],"values":[0,5,10,15,20,25,30,35,40]}},
       "y":{"field":"y","type":"quantitative","axis":{"orient":"left","title":null,"labels":false,"grid":true,"gridDash":[2,85,2,500],"values":[0,10,20,30,40,50,60,70,80,90,100]}}}},
     {"data":{"name":"ef"},"transform":[{"filter":"datum.p == '2'"}],"mark":{"type":"line","color":"#2e3192","strokeWidth":1.3},
      "encoding":{"x":{"field":"x","type":"quantitative","axis":{"orient":"bottom","title":"2 days","titleX":80,"titleY":-80.5,"titleAlign":"right","titleBaseline":"alphabetic","titleAngle":0,"titlePadding":0,"labels":false,"grid":true,"gridDash":[4,86.5,4,500],"values":[0,20,40]}},
       "y":{"field":"y","type":"quantitative","axis":{"orient":"left","title":null,"values":[0,20,40,60,80,100],"format":"d","grid":true,"gridDash":[4,81,4,500],"labelOverlap":false,"labelPadding":2.5}}}}
    ]},
   {"width":89,"height":94.5,"title":{"text":" ","offset":-8.5},
    "resolve":{"axis":{"x":"independent","y":"independent"}},
    "layer":[
     {"data":{"name":"ed"},"transform":[{"filter":"datum.p == '3'"}],"mark":{"type":"errorbar","ticks":{"size":3},"color":"#444","clip":true},
      "encoding":{"x":{"field":"x","type":"quantitative","scale":{"domain":[0,60],"nice":false},"axis":null},"y":{"field":"y","type":"quantitative","scale":{"domain":[0,100]},"axis":null},"yError":{"field":"e"}}},
     {"data":{"name":"ed"},"transform":[{"filter":"datum.p == '3'"}],"mark":{"type":"point","shape":"square","size":8,"color":"#7a7a7a","strokeWidth":0.7},
      "encoding":{"x":{"field":"x","type":"quantitative","axis":{"orient":"bottom","title":null,"labels":false,"grid":true,"gridDash":[2,90.5,2,500],"values":[0,10,20,30,40,50,60]}},
       "y":{"field":"y","type":"quantitative","axis":{"orient":"left","title":null,"labels":false,"grid":true,"gridDash":[2,85,2,500],"values":[0,10,20,30,40,50,60,70,80,90,100]}}}},
     {"data":{"name":"ef"},"transform":[{"filter":"datum.p == '3'"}],"mark":{"type":"line","color":"#2e3192","strokeWidth":1.3},
      "encoding":{"x":{"field":"x","type":"quantitative","axis":{"orient":"bottom","title":"3 days","titleX":80,"titleY":-80.5,"titleAlign":"right","titleBaseline":"alphabetic","titleAngle":0,"titlePadding":0,"labels":false,"grid":true,"gridDash":[4,86.5,4,500],"values":[0,20,40,60]}},
       "y":{"field":"y","type":"quantitative","axis":{"orient":"left","title":null,"labels":false,"grid":true,"gridDash":[4,81,4,500],"values":[0,20,40,60,80,100]}}}}
    ]},
   {"width":89,"height":94.5,"title":{"text":" ","offset":-8.5},
    "resolve":{"axis":{"x":"independent","y":"independent"}},
    "layer":[
     {"data":{"name":"ed"},"transform":[{"filter":"datum.p == '4'"}],"mark":{"type":"errorbar","ticks":{"size":3},"color":"#444","clip":true},
      "encoding":{"x":{"field":"x","type":"quantitative","scale":{"domain":[0,100],"nice":false},"axis":null},"y":{"field":"y","type":"quantitative","scale":{"domain":[0,100]},"axis":null},"yError":{"field":"e"}}},
     {"data":{"name":"ed"},"transform":[{"filter":"datum.p == '4'"}],"mark":{"type":"point","shape":"square","size":8,"color":"#7a7a7a","strokeWidth":0.7},
      "encoding":{"x":{"field":"x","type":"quantitative","axis":{"orient":"bottom","title":null,"labels":false,"grid":true,"gridDash":[2,90.5,2,500],"values":[0,10,20,30,40,50,60,70,80,90,100]}},
       "y":{"field":"y","type":"quantitative","axis":{"orient":"left","title":null,"labels":false,"grid":true,"gridDash":[2,85,2,500],"values":[0,10,20,30,40,50,60,70,80,90,100]}}}},
     {"data":{"name":"ef"},"transform":[{"filter":"datum.p == '4'"}],"mark":{"type":"line","color":"#2e3192","strokeWidth":1.3},
      "encoding":{"x":{"field":"x","type":"quantitative","axis":{"orient":"bottom","title":"4 days","titleX":80,"titleY":-80.5,"titleAlign":"right","titleBaseline":"alphabetic","titleAngle":0,"titlePadding":0,"labels":false,"grid":true,"gridDash":[4,86.5,4,500],"values":[0,20,40,60,80,100]}},
       "y":{"field":"y","type":"quantitative","axis":{"orient":"left","title":null,"labels":false,"grid":true,"gridDash":[4,81,4,500],"values":[0,20,40,60,80,100]}}}}
    ]}
  ],"spacing":0},
  {"hconcat":[
   {"width":89,"height":94.5,"title":{"text":"5 days","anchor":"end","frame":"group","offset":-16,"dx":-7,"fontSize":9.2,"fontWeight":"normal"},
    "resolve":{"axis":{"x":"independent","y":"independent"}},
    "layer":[
     {"data":{"name":"ed"},"transform":[{"filter":"datum.p == '5'"}],"mark":{"type":"errorbar","ticks":{"size":3},"color":"#444","clip":true},
      "encoding":{"x":{"field":"x","type":"quantitative","scale":{"domain":[0,40],"nice":false},"axis":null},"y":{"field":"y","type":"quantitative","scale":{"domain":[0,100]},"axis":null},"yError":{"field":"e"}}},
     {"data":{"name":"ed"},"transform":[{"filter":"datum.p == '5'"}],"mark":{"type":"point","shape":"square","size":8,"color":"#7a7a7a","strokeWidth":0.7},
      "encoding":{"x":{"field":"x","type":"quantitative","axis":{"orient":"bottom","title":null,"labels":false,"grid":true,"gridDash":[2,90.5,2,500],"values":[0,5,10,15,20,25,30,35,40]}},
       "y":{"field":"y","type":"quantitative","axis":{"orient":"left","title":null,"labels":false,"grid":true,"gridDash":[2,85,2,500],"values":[0,10,20,30,40,50,60,70,80,90,100]}}}},
     {"data":{"name":"ef"},"transform":[{"filter":"datum.p == '5'"}],"mark":{"type":"line","color":"#2e3192","strokeWidth":1.3},
      "encoding":{"x":{"field":"x","type":"quantitative","axis":{"orient":"bottom","title":null,"values":[0,20],"format":"d","grid":true,"gridDash":[4,86.5,4,500],"labelOverlap":false,"labelFlush":false,"labelPadding":4}},
       "y":{"field":"y","type":"quantitative","axis":{"orient":"left","title":null,"values":[0,20,40,60,80],"format":"d","grid":true,"gridDash":[4,81,4,500],"labelOverlap":false,"labelPadding":2.5}}}}
    ]},
   {"width":89,"height":94.5,"title":{"text":"8 days","anchor":"end","frame":"group","offset":-16,"dx":-7,"fontSize":9.2,"fontWeight":"normal"},
    "resolve":{"axis":{"x":"independent","y":"independent"}},
    "layer":[
     {"data":{"name":"ed"},"transform":[{"filter":"datum.p == '8'"}],"mark":{"type":"errorbar","ticks":{"size":3},"color":"#444","clip":true},
      "encoding":{"x":{"field":"x","type":"quantitative","scale":{"domain":[0,60],"nice":false},"axis":null},"y":{"field":"y","type":"quantitative","scale":{"domain":[0,100]},"axis":null},"yError":{"field":"e"}}},
     {"data":{"name":"ed"},"transform":[{"filter":"datum.p == '8'"}],"mark":{"type":"point","shape":"square","size":8,"color":"#7a7a7a","strokeWidth":0.7},
      "encoding":{"x":{"field":"x","type":"quantitative","axis":{"orient":"bottom","title":null,"labels":false,"grid":true,"gridDash":[2,90.5,2,500],"values":[0,10,20,30,40,50,60]}},
       "y":{"field":"y","type":"quantitative","axis":{"orient":"left","title":null,"labels":false,"grid":true,"gridDash":[2,85,2,500],"values":[0,10,20,30,40,50,60,70,80,90,100]}}}},
     {"data":{"name":"ef"},"transform":[{"filter":"datum.p == '8'"}],"mark":{"type":"line","color":"#2e3192","strokeWidth":1.3},
      "encoding":{"x":{"field":"x","type":"quantitative","axis":{"orient":"bottom","title":"Clone size (cells)","values":[0,20,40],"format":"d","grid":true,"gridDash":[4,86.5,4,500],"labelOverlap":false,"labelFlush":false,"labelPadding":4}},
       "y":{"field":"y","type":"quantitative","axis":{"orient":"left","title":null,"labels":false,"grid":true,"gridDash":[4,81,4,500],"values":[0,20,40,60,80,100]}}}}
    ]},
   {"width":89,"height":94.5,"title":{"text":"16 days","anchor":"end","frame":"group","offset":-16,"dx":-7,"fontSize":9.2,"fontWeight":"normal"},
    "resolve":{"axis":{"x":"independent","y":"independent"}},
    "layer":[
     {"data":{"name":"ed"},"transform":[{"filter":"datum.p == '16'"}],"mark":{"type":"errorbar","ticks":{"size":3},"color":"#444","clip":true},
      "encoding":{"x":{"field":"x","type":"quantitative","scale":{"domain":[0,100],"nice":false},"axis":null},"y":{"field":"y","type":"quantitative","scale":{"domain":[0,100]},"axis":null},"yError":{"field":"e"}}},
     {"data":{"name":"ed"},"transform":[{"filter":"datum.p == '16'"}],"mark":{"type":"point","shape":"square","size":8,"color":"#7a7a7a","strokeWidth":0.7},
      "encoding":{"x":{"field":"x","type":"quantitative","axis":{"orient":"bottom","title":null,"labels":false,"grid":true,"gridDash":[2,90.5,2,500],"values":[0,10,20,30,40,50,60,70,80,90,100]}},
       "y":{"field":"y","type":"quantitative","axis":{"orient":"left","title":null,"labels":false,"grid":true,"gridDash":[2,85,2,500],"values":[0,10,20,30,40,50,60,70,80,90,100]}}}},
     {"data":{"name":"ef"},"transform":[{"filter":"datum.p == '16'"}],"mark":{"type":"line","color":"#2e3192","strokeWidth":1.3},
      "encoding":{"x":{"field":"x","type":"quantitative","axis":{"orient":"bottom","title":null,"values":[0,20,40,60,80,100],"format":"d","grid":true,"gridDash":[4,86.5,4,500],"labelOverlap":false,"labelFlush":false,"labelPadding":4}},
       "y":{"field":"y","type":"quantitative","axis":{"orient":"left","title":null,"labels":false,"grid":true,"gridDash":[4,81,4,500],"values":[0,20,40,60,80,100]}}}}
    ]}
  ],"spacing":-2.5}
  ],"spacing":-4.5}
],
"spacing":9,
"center":true
}
